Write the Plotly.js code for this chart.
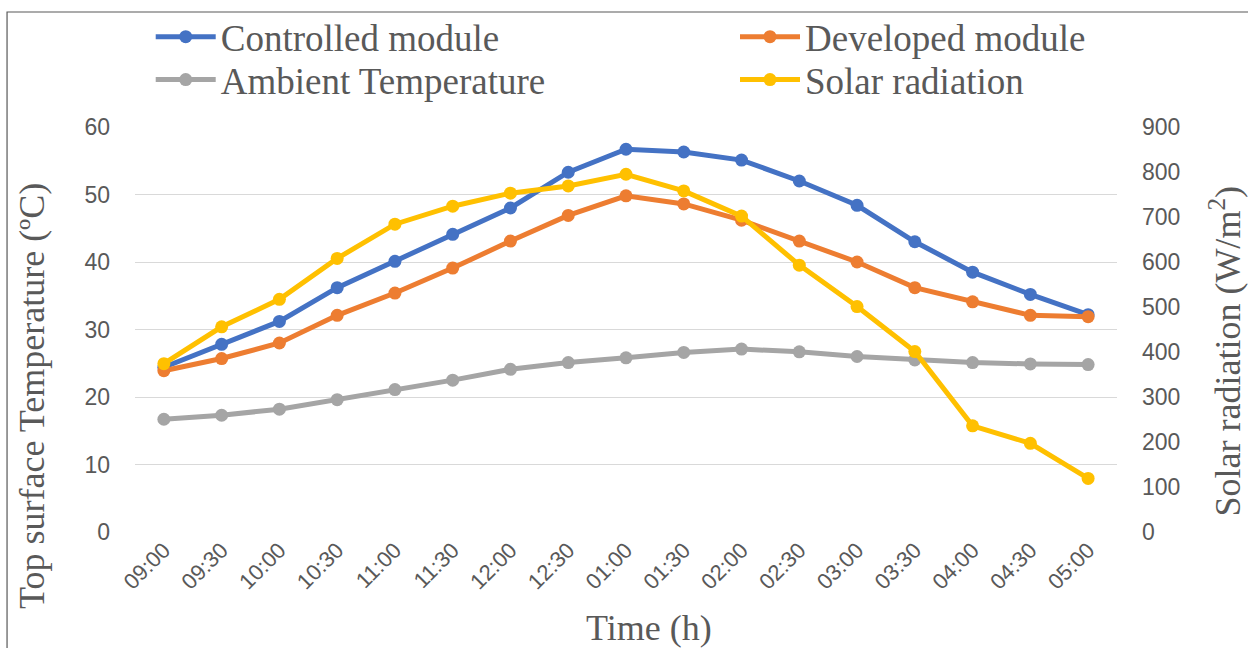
<!DOCTYPE html>
<html>
<head>
<meta charset="utf-8">
<script src="https://cdn.plot.ly/plotly-3.0.1.min.js"></script>
<style>html,body{margin:0;padding:0;background:#fff;}#chart{width:1248px;height:648px;}</style>
</head>
<body>
<div id="chart"></div>
<script>
const times = ["09:00","09:30","10:00","10:30","11:00","11:30","12:00","12:30","01:00","01:30","02:00","02:30","03:00","03:30","04:00","04:30","05:00"];
const controlledModule = [24.4,27.8,31.2,36.2,40.1,44.1,48.0,53.3,56.7,56.3,55.1,52.0,48.4,43.0,38.5,35.2,32.2];
const developedModule = [23.9,25.7,28.0,32.1,35.4,39.1,43.1,46.9,49.8,48.6,46.2,43.1,40.0,36.2,34.1,32.1,31.9];
const ambientTemperature = [16.7,17.3,18.2,19.6,21.1,22.5,24.1,25.1,25.8,26.6,27.1,26.7,26.0,25.5,25.1,24.9,24.8];
const solarRadiation = [374,456,517,608,684,724,753,769,795,758,702,593,501,401,236,197,119];

const serif = "'Liberation Serif','Times New Roman',serif";
const sans = "'Liberation Sans',Arial,sans-serif";
const grey = "#595959";

function series(name, y, color, axis, legendId) {
  return {
    type: "scatter", mode: "lines+markers", name: name,
    x: times, y: y, yaxis: axis, legend: legendId,
    line: {color: color, width: 5},
    marker: {color: color, size: 13, symbol: "circle"}
  };
}

const data = [
  series("Controlled module", controlledModule, "#4472C4", "y", "legend"),
  series("Developed module", developedModule, "#ED7D31", "y", "legend2"),
  series("Ambient Temperature", ambientTemperature, "#A5A5A5", "y", "legend3"),
  series("Solar radiation", solarRadiation, "#FFC000", "y2", "legend4")
];

function leg(x, y) {
  return {
    orientation: "v", x: x, xanchor: "left", y: y, yanchor: "middle",
    font: {family: serif, size: 37, color: grey},
    itemwidth: 60, bgcolor: "rgba(0,0,0,0)", borderwidth: 0
  };
}

const layout = {
  width: 1248, height: 648,
  margin: {l: 135, r: 131, t: 127, b: 116, autoexpand: false},
  paper_bgcolor: "#fff", plot_bgcolor: "#fff",
  showlegend: true,
  legend: leg(0.016, 1.222),
  legend2: leg(0.611, 1.222),
  legend3: leg(0.016, 1.116),
  legend4: leg(0.611, 1.116),
  xaxis: {
    type: "category", range: [-0.5, 16.5],
    tickangle: -45, tickfont: {family: sans, size: 22, color: grey},
    showgrid: false, showline: false, zeroline: false, ticks: "",
    automargin: false
  },
  yaxis: {
    range: [0, 60], dtick: 10, tick0: 0,
    tickfont: {family: sans, size: 23, color: grey},
    gridcolor: "#D9D9D9", gridwidth: 1, zeroline: false, showline: false, ticks: "",
    ticklabelstandoff: 24,
    automargin: false
  },
  yaxis2: {
    range: [0, 900], dtick: 100, tick0: 0, overlaying: "y", side: "right",
    tickfont: {family: sans, size: 23, color: grey},
    showgrid: false, zeroline: false, showline: false, ticks: "",
    ticklabelstandoff: 24,
    automargin: false
  },
  annotations: [
    {text: "Time (h)", xref: "paper", yref: "paper", x: 0.5234, y: -0.237,
     xanchor: "center", yanchor: "middle", showarrow: false,
     font: {family: serif, size: 36, color: grey}},
    {text: "Top surface Temperature (ºC)", xref: "paper", yref: "paper", x: -0.1049, y: 0.3358,
     xanchor: "center", yanchor: "middle", showarrow: false, textangle: -90,
     font: {family: serif, size: 36, color: grey}},
    {text: "Solar radiation (W/m<sup>2</sup>)", xref: "paper", yref: "paper", x: 1.1095, y: 0.4469,
     xanchor: "center", yanchor: "middle", showarrow: false, textangle: -90,
     font: {family: serif, size: 36, color: grey}}
  ],
  shapes: [{
    type: "rect", xref: "paper", yref: "paper",
    x0: -0.1303, x1: 1.5, y0: -0.6, y1: 1.284,
    line: {color: "#595959", width: 1.2}, fillcolor: "rgba(0,0,0,0)", layer: "below"
  }]
};

Plotly.newPlot("chart", data, layout, {displayModeBar: false, staticPlot: true});
</script>
</body>
</html>
